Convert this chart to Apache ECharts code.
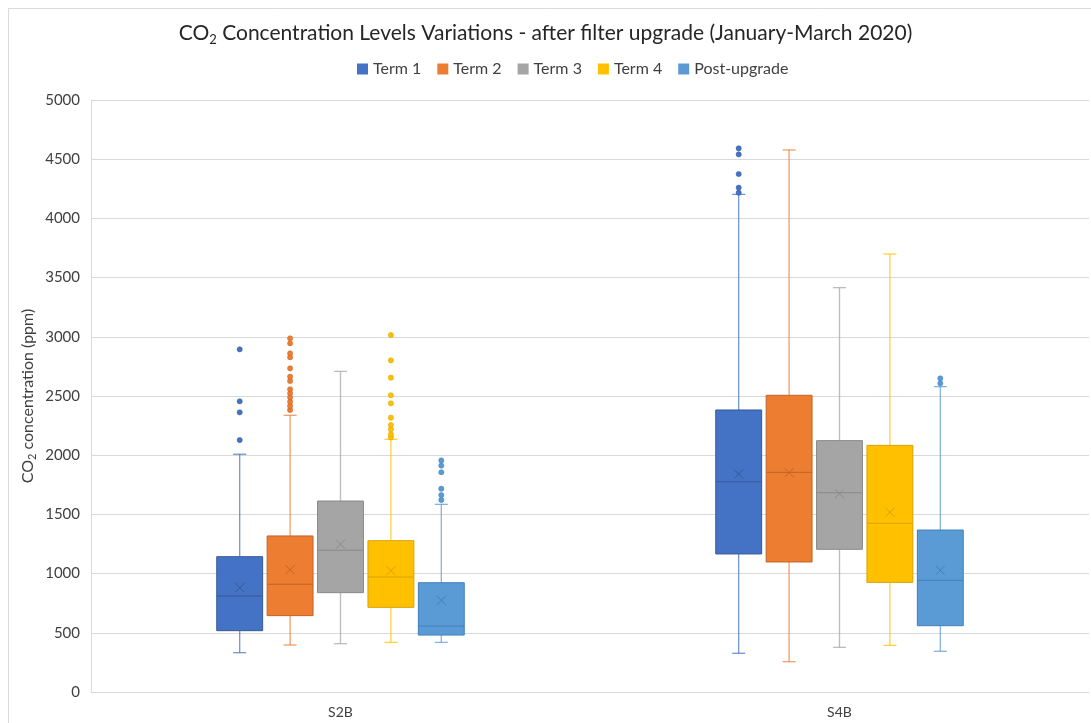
<!DOCTYPE html>
<html>
<head>
<meta charset="utf-8">
<script src="https://cdn.jsdelivr.net/npm/echarts@6/dist/echarts.min.js"></script>
<style>
  html, body { margin: 0; padding: 0; background: #fff; }
  #chart { width: 1091px; height: 723px; }
</style>
</head>
<body>
<div id="chart"></div>
<script>
const categories = ['S2B', 'S4B'];
const terms = ['Term 1', 'Term 2', 'Term 3', 'Term 4', 'Post-upgrade'];
const colors = ['#4472C4', '#ED7D31', '#A5A5A5', '#FFC000', '#5B9BD5'];
const edgeColors = ['#35599a', '#c0642a', '#8a8a8a', '#d9a300', '#3f7fbb'];
const yTicks = [0, 5000, 500];

// [min, Q1, median, Q3, max] for S2B, S4B
const term1Box = [[332, 518, 811, 1143, 2008], [327, 1166, 1776, 2382, 4203]];
const term2Box = [[397, 645, 910, 1318, 2337], [256, 1098, 1855, 2506, 4578]];
const term3Box = [[408, 839, 1197, 1613, 2708], [377, 1205, 1683, 2123, 3415]];
const term4Box = [[419, 715, 971, 1278, 2134], [394, 926, 1425, 2083, 3699]];
const postBox = [[419, 481, 557, 923, 1585], [344, 560, 943, 1368, 2579]];

const term1Mean = [881, 1841];
const term2Mean = [1033, 1852];
const term3Mean = [1248, 1675];
const term4Mean = [1025, 1518];
const postMean = [774, 1028];

const term1Outliers = [[2128, 2362, 2455, 2894], [4217, 4260, 4375, 4541, 4592]];
const term2Outliers = [[2382, 2416, 2452, 2489, 2523, 2557, 2627, 2663, 2734, 2827, 2860, 2945, 2987], []];
const term3Outliers = [[], []];
const term4Outliers = [[2150, 2176, 2219, 2255, 2317, 2438, 2506, 2655, 2801, 3015], []];
const postOutliers = [[1622, 1664, 1717, 1856, 1912, 1956], [2607, 2649]];

const boxes = [term1Box, term2Box, term3Box, term4Box, postBox];
const means = [term1Mean, term2Mean, term3Mean, term4Mean, postMean];
const outliers = [term1Outliers, term2Outliers, term3Outliers, term4Outliers, postOutliers];

const font = 'Lato, "Open Sans", sans-serif';

function makeRenderer(t) {
  return function (params, api) {
    const cat = api.value(0);
    const band = api.size([1, 0])[0];
    const cx = api.coord([cat, 0])[0] + (t - 2) * band * 0.101;
    const half = band * 0.046;
    const y = i => api.coord([cat, api.value(i)])[1];
    const yMin = y(1), yQ1 = y(2), yMed = y(3), yQ3 = y(4), yMax = y(5), yMean = y(6);
    const whisker = { stroke: colors[t], lineWidth: 1.3, opacity: 0.75 };
    const edge = { stroke: edgeColors[t], lineWidth: 1 };
    const cap = 6.5;
    const kids = [
      { type: 'line', shape: { x1: cx, y1: yMax, x2: cx, y2: yQ3 }, style: whisker },
      { type: 'line', shape: { x1: cx, y1: yQ1, x2: cx, y2: yMin }, style: whisker },
      { type: 'line', shape: { x1: cx - cap, y1: yMax, x2: cx + cap, y2: yMax }, style: whisker },
      { type: 'line', shape: { x1: cx - cap, y1: yMin, x2: cx + cap, y2: yMin }, style: whisker },
      { type: 'rect', shape: { x: cx - half, y: yQ3, width: half * 2, height: yQ1 - yQ3 },
        style: { fill: colors[t], stroke: edgeColors[t], lineWidth: 1 } },
      { type: 'line', shape: { x1: cx - half, y1: yMed, x2: cx + half, y2: yMed }, style: edge },
      { type: 'line', shape: { x1: cx - 4.5, y1: yMean - 4.5, x2: cx + 4.5, y2: yMean + 4.5 }, style: edge },
      { type: 'line', shape: { x1: cx - 4.5, y1: yMean + 4.5, x2: cx + 4.5, y2: yMean - 4.5 }, style: edge }
    ];
    outliers[t][cat].forEach(v => {
      kids.push({
        type: 'circle',
        shape: { cx: cx, cy: api.coord([cat, v])[1], r: 2.6 },
        style: { fill: colors[t], stroke: edgeColors[t], lineWidth: 0.5 }
      });
    });
    return { type: 'group', children: kids };
  };
}

const series = terms.map((name, t) => ({
  name: name,
  type: 'custom',
  renderItem: makeRenderer(t),
  itemStyle: { color: colors[t] },
  encode: { x: 0, y: [1, 2, 3, 4, 5, 6] },
  data: categories.map((c, i) => [i].concat(boxes[t][i], [means[t][i]]))
}));

const chart = echarts.init(document.getElementById('chart'));
chart.setOption({
  animation: false,
  backgroundColor: '#fff',
  graphic: [{
    type: 'rect', silent: true,
    shape: { x: 8.5, y: 8.5, width: 1100, height: 740 },
    style: { fill: 'none', stroke: '#d9d9d9', lineWidth: 1 }
  }],
  title: {
    text: '{a|CO}{s|2}{a| Concentration Levels Variations - after filter upgrade (January-March 2020)}',
    left: 'center',
    top: 16,
    textStyle: {
      rich: {
        a: { fontFamily: font, fontSize: 21, fontWeight: 'normal', color: '#262626' },
        s: { fontFamily: font, fontSize: 13, fontWeight: 'normal', color: '#262626', padding: [12, 0, 0, 0] }
      }
    }
  },
  legend: {
    data: terms,
    top: 56,
    left: 352,
    icon: 'rect',
    itemWidth: 11,
    itemHeight: 11,
    itemGap: 16,
    textStyle: { fontFamily: font, fontSize: 16, color: '#404040' }
  },
  grid: { left: 91, right: 2, top: 100, bottom: 31 },
  xAxis: {
    type: 'category',
    data: categories,
    axisLine: { lineStyle: { color: '#d9d9d9' } },
    axisTick: { show: false },
    axisLabel: { fontFamily: font, fontSize: 14, color: '#404040', margin: 13 },
    splitLine: { show: false }
  },
  yAxis: {
    type: 'value',
    min: yTicks[0],
    max: yTicks[1],
    interval: yTicks[2],
    name: '{a|CO}{s|2}{a| concentration (ppm)}',
    nameLocation: 'middle',
    nameGap: 53,
    nameMoveOverlap: false,
    nameTextStyle: {
      rich: {
        a: { fontFamily: font, fontSize: 16, color: '#404040' },
        s: { fontFamily: font, fontSize: 11, color: '#404040', padding: [9, 0, 0, 0] }
      }
    },
    axisLine: { show: true, lineStyle: { color: '#d9d9d9' } },
    axisTick: { show: false },
    axisLabel: { fontFamily: font, fontSize: 15, color: '#404040', margin: 11, formatter: v => String(v) },
    splitLine: { lineStyle: { color: '#d9d9d9' } }
  },
  series: series
});
</script>
</body>
</html>
